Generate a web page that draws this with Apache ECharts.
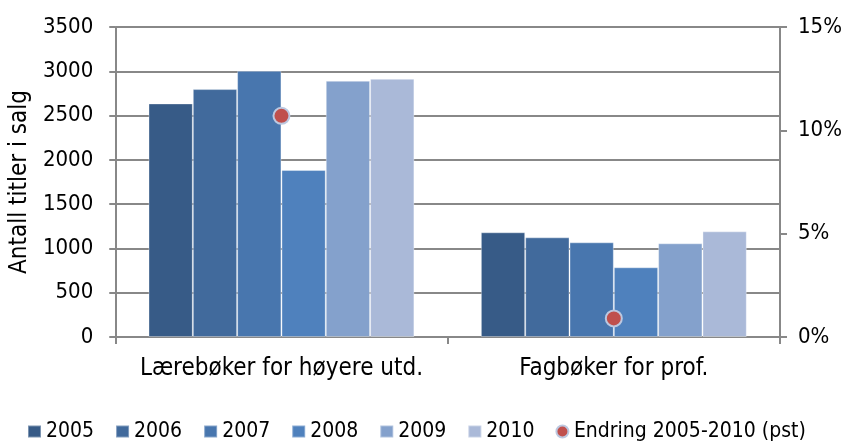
<!DOCTYPE html>
<html>
<head>
<meta charset="utf-8">
<script src="https://cdn.jsdelivr.net/npm/echarts@6/dist/echarts.min.js"></script>
<style>
  html, body { margin: 0; padding: 0; background: #fff; }
  #main { width: 845px; height: 443px; }
</style>
</head>
<body>
<div id="main"></div>
<script>
var categories = ['Lærebøker for høyere utd.', 'Fagbøker for prof.'];
var years = ['2005', '2006', '2007', '2008', '2009', '2010'];
var v2005 = [2637, 1182];
var v2006 = [2799, 1125];
var v2007 = [3005, 1069];
var v2008 = [1885, 787];
var v2009 = [2893, 1058];
var v2010 = [2915, 1193];
var endring = [10.7, 0.9];
var colors = ['#375B87', '#416A9C', '#4876AE', '#4F81BD', '#84A1CC', '#AAB9D8'];

var FONT = 'DejaVu Sans Condensed';
var yearValues = [v2005, v2006, v2007, v2008, v2009, v2010];

var series = years.map(function (y, i) {
    return {
        name: y,
        type: 'bar',
        yAxisIndex: 0,
        barGap: '0%',
        barCategoryGap: '20%',
        itemStyle: { color: colors[i], borderColor: 'rgba(255,255,255,0.35)', borderWidth: 1 },
        data: yearValues[i]
    };
});
series.push({
    name: 'Endring 2005-2010 (pst)',
    type: 'scatter',
    yAxisIndex: 1,
    symbol: 'circle',
    symbolSize: 16,
    itemStyle: { color: '#C0504D', borderColor: '#BCC8E0', borderWidth: 2, opacity: 1 },
    z: 5,
    data: endring
});

var myChart = echarts.init(document.getElementById('main'));
myChart.setOption({
    animation: false,
    textStyle: { fontFamily: FONT },
    grid: { left: 113, right: 62, top: 27, bottom: 106 },
    legend: {
        top: 421,
        left: 27,
        padding: 0,
        itemWidth: 13,
        itemHeight: 12,
        itemGap: 21,
        textStyle: { fontSize: 21, color: '#000', fontFamily: FONT },
        data: years.map(function (y) { return { name: y, icon: 'rect' }; })
            .concat([{ name: 'Endring 2005-2010 (pst)', icon: 'circle' }])
    },
    xAxis: {
        type: 'category',
        data: categories,
        axisLine: { lineStyle: { color: '#888', width: 2 } },
        axisTick: { show: true, length: 7, lineStyle: { color: '#888', width: 2 } },
        axisLabel: { fontSize: 24, color: '#000', margin: 20, interval: 0 }
    },
    yAxis: [
        {
            type: 'value',
            min: 0,
            max: 3500,
            interval: 500,
            name: 'Antall titler i salg',
            nameLocation: 'middle',
            nameGap: 82,
            nameTextStyle: { fontSize: 24, color: '#000' },
            axisLine: { show: true, lineStyle: { color: '#888', width: 2 } },
            axisTick: { show: true, length: 6, lineStyle: { color: '#888', width: 2 } },
            axisLabel: { fontSize: 22, color: '#000', margin: 22, formatter: function (v) { return String(v); } },
            splitLine: { lineStyle: { color: '#888', width: 2 } }
        },
        {
            type: 'value',
            min: 0,
            max: 15,
            interval: 5,
            position: 'right',
            axisLine: { show: true, lineStyle: { color: '#888', width: 2 } },
            axisTick: { show: true, length: 7, lineStyle: { color: '#888', width: 2 } },
            axisLabel: { fontSize: 22, color: '#000', margin: 18, formatter: '{value}%' },
            splitLine: { show: false }
        }
    ],
    series: series
});
</script>
</body>
</html>
